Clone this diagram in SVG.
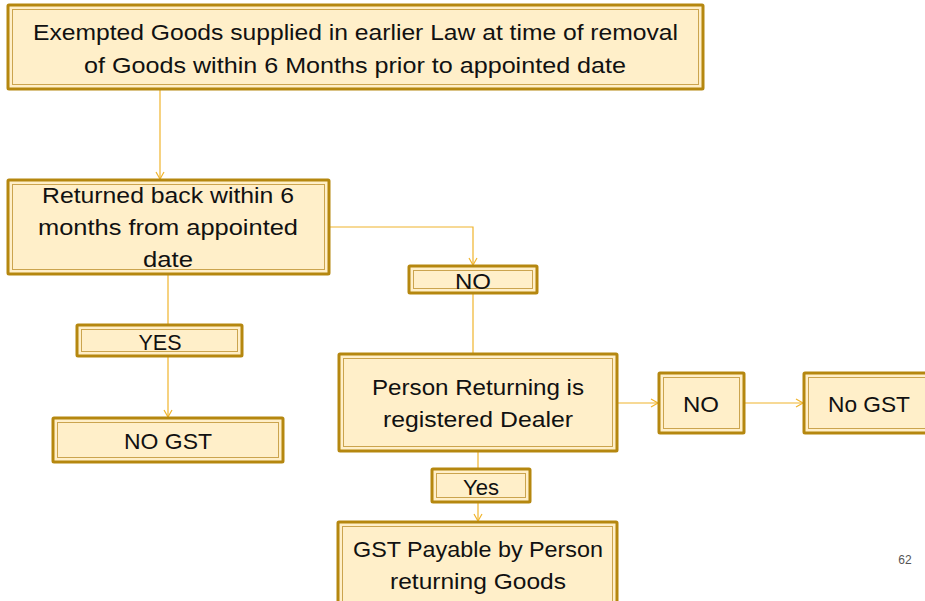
<svg xmlns="http://www.w3.org/2000/svg" width="925" height="601" viewBox="0 0 925 601">
<defs>
<style>
.outer{fill:#FFEFC9;stroke:#B5870F;stroke-width:3}
.inner{fill:none;stroke:#CBA44E;stroke-width:1}
.t{font-family:"Liberation Sans",Arial,sans-serif;font-size:22px;fill:#111;text-anchor:middle}
.c{fill:none;stroke:#F0B42C;stroke-width:1.2}
</style>
<marker id="ah" markerWidth="10" markerHeight="10" refX="8" refY="5" orient="auto" markerUnits="userSpaceOnUse">
<path d="M1,1 L8,5 L1,9" fill="none" stroke="#F0B42C" stroke-width="1.2"/>
</marker>
</defs>
<rect width="925" height="601" fill="#fff"/>
<g id="connectors">
<line class="c" x1="160" y1="90" x2="160" y2="179" marker-end="url(#ah)"/>
<polyline class="c" points="330,227 473,227 473,265" marker-end="url(#ah)"/>
<line class="c" x1="473" y1="294" x2="473" y2="353"/>
<line class="c" x1="168" y1="275" x2="168" y2="324"/>
<line class="c" x1="168" y1="357" x2="168" y2="417" marker-end="url(#ah)"/>
<line class="c" x1="618" y1="403" x2="658" y2="403" marker-end="url(#ah)"/>
<line class="c" x1="745" y1="403" x2="803" y2="403" marker-end="url(#ah)"/>
<line class="c" x1="478" y1="452" x2="478" y2="468"/>
<line class="c" x1="478" y1="503" x2="478" y2="521" marker-end="url(#ah)"/>
</g>
<g id="n1">
<rect class="outer" x="8" y="5" width="695" height="84" rx="1"/>
<rect class="inner" x="12.5" y="9.5" width="686" height="75"/>
<text class="t" x="355.5" y="40" textLength="645" lengthAdjust="spacingAndGlyphs">Exempted Goods supplied in earlier Law at time of removal</text>
<text class="t" x="355" y="73" textLength="542" lengthAdjust="spacingAndGlyphs">of Goods within 6 Months prior to appointed date</text>
</g>
<g id="n2">
<rect class="outer" x="8" y="180" width="321" height="94" rx="1"/>
<rect class="inner" x="12.5" y="184.5" width="312" height="85"/>
<text class="t" x="168" y="203" textLength="252" lengthAdjust="spacingAndGlyphs">Returned back within 6</text>
<text class="t" x="168" y="235" textLength="260" lengthAdjust="spacingAndGlyphs">months from appointed</text>
<text class="t" x="168" y="267" textLength="50" lengthAdjust="spacingAndGlyphs">date</text>
</g>
<g id="n3">
<rect class="outer" x="409" y="266" width="128" height="27" rx="1"/>
<rect class="inner" x="413.5" y="270.5" width="119" height="18"/>
<text class="t" x="473" y="289" textLength="36" lengthAdjust="spacingAndGlyphs">NO</text>
</g>
<g id="n4">
<rect class="outer" x="77" y="325" width="165" height="31" rx="1"/>
<rect class="inner" x="81.5" y="329.5" width="156" height="22"/>
<text class="t" x="160" y="350" textLength="43" lengthAdjust="spacingAndGlyphs">YES</text>
</g>
<g id="n5">
<rect class="outer" x="53" y="418" width="230" height="44" rx="1"/>
<rect class="inner" x="57.5" y="422.5" width="221" height="35"/>
<text class="t" x="168" y="449" textLength="88" lengthAdjust="spacingAndGlyphs">NO GST</text>
</g>
<g id="n6">
<rect class="outer" x="339" y="354" width="278" height="97" rx="1"/>
<rect class="inner" x="343.5" y="358.5" width="269" height="88"/>
<text class="t" x="478" y="395" textLength="212" lengthAdjust="spacingAndGlyphs">Person Returning is</text>
<text class="t" x="478" y="427" textLength="190" lengthAdjust="spacingAndGlyphs">registered Dealer</text>
</g>
<g id="n7">
<rect class="outer" x="659" y="373" width="85" height="60" rx="1"/>
<rect class="inner" x="663.5" y="377.5" width="76" height="51"/>
<text class="t" x="701" y="412" textLength="36" lengthAdjust="spacingAndGlyphs">NO</text>
</g>
<g id="n8">
<rect class="outer" x="804" y="373" width="130" height="60" rx="1"/>
<rect class="inner" x="808.5" y="377.5" width="121" height="51"/>
<text class="t" x="869" y="412" textLength="82" lengthAdjust="spacingAndGlyphs">No GST</text>
</g>
<g id="n9">
<rect class="outer" x="432" y="469" width="98" height="33" rx="1"/>
<rect class="inner" x="436.5" y="473.5" width="89" height="24"/>
<text class="t" x="481" y="495" textLength="36" lengthAdjust="spacingAndGlyphs">Yes</text>
</g>
<g id="n10">
<rect class="outer" x="338" y="522" width="279" height="90" rx="1"/>
<rect class="inner" x="342.5" y="526.5" width="270" height="81"/>
<text class="t" x="478" y="557" textLength="250" lengthAdjust="spacingAndGlyphs">GST Payable by Person</text>
<text class="t" x="478" y="589" textLength="176" lengthAdjust="spacingAndGlyphs">returning Goods</text>
</g>
<text x="905" y="564" font-family="'Liberation Sans',Arial,sans-serif" font-size="12" fill="#555" text-anchor="middle">62</text>
</svg>
